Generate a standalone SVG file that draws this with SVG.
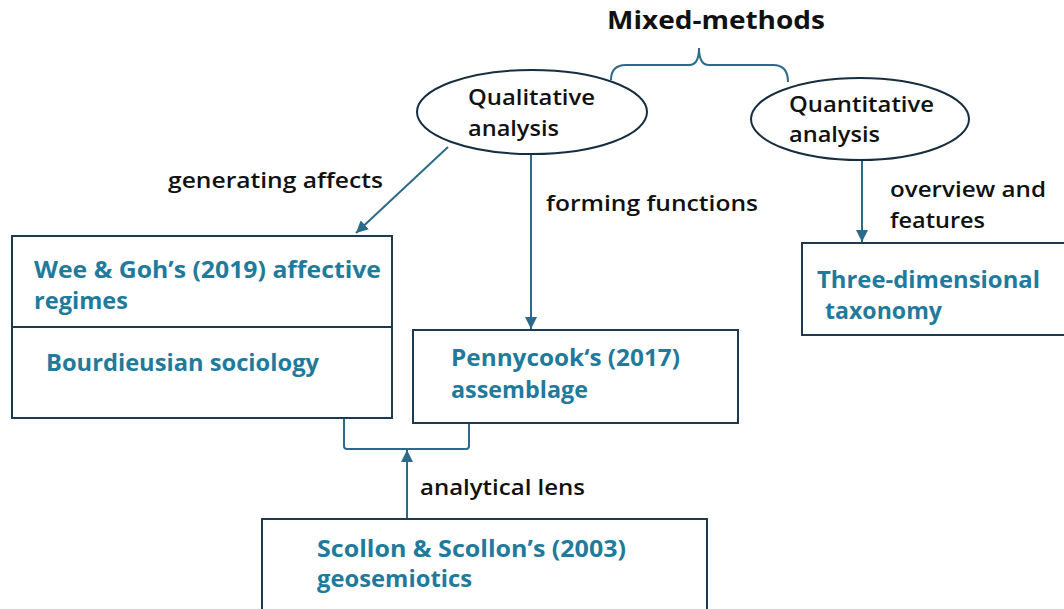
<svg xmlns="http://www.w3.org/2000/svg" width="1064" height="609" viewBox="0 0 1064 609">
<style>
.box{fill:#fff;stroke:#1d3b50;stroke-width:2}
.ell{fill:#fff;stroke:#172e40;stroke-width:2}
.con{fill:none;stroke:#2b6a88;stroke-width:2}
text{font-family:"Open Sans","Liberation Sans",sans-serif}
.lbl{font-weight:600;font-size:22px;fill:#111}
.ttl{font-weight:700;font-size:25px;fill:#111}
.blue{font-weight:700;font-size:23px;fill:#1f7a9c}
</style>
<defs>
<marker id="ah2" viewBox="0 0 10 10" refX="10" refY="5" markerWidth="12" markerHeight="12" orient="auto" markerUnits="userSpaceOnUse">
<path d="M0,0 L10,5 L0,10 z" fill="#2b6a88"/>
</marker>
</defs>
<text class="ttl" x="607" y="29" textLength="218" lengthAdjust="spacingAndGlyphs">Mixed-methods</text>
<g id="connectors">
<path class="con" d="M611,80 Q611,65 626,65 L689,65 Q699,65 699,48 Q699,65 709,65 L773,65 Q788,65 788,82"/>
<line class="con" x1="448" y1="147" x2="356" y2="233" marker-end="url(#ah2)"/>
<line class="con" x1="531" y1="155" x2="531" y2="329" marker-end="url(#ah2)"/>
<line class="con" x1="862" y1="160" x2="862" y2="242" marker-end="url(#ah2)"/>
<path class="con" d="M344,419 L344,446 Q344,449 347,449 L466,449 Q469,449 469,446 L469,424"/>
<line class="con" x1="407" y1="519" x2="407" y2="450" marker-end="url(#ah2)"/>
<text class="lbl" x="168" y="188" textLength="215" lengthAdjust="spacingAndGlyphs">generating affects</text>
<text class="lbl" x="546" y="211" textLength="212" lengthAdjust="spacingAndGlyphs">forming functions</text>
<text class="lbl" x="890" y="197" textLength="156" lengthAdjust="spacingAndGlyphs">overview and</text>
<text class="lbl" x="890" y="228" textLength="95" lengthAdjust="spacingAndGlyphs">features</text>
<text class="lbl" x="420" y="495" textLength="165" lengthAdjust="spacingAndGlyphs">analytical lens</text>
</g>
<g id="qualitative">
<ellipse class="ell" cx="532" cy="112" rx="115" ry="42"/>
<text class="lbl" x="468" y="105" textLength="127" lengthAdjust="spacingAndGlyphs">Qualitative</text>
<text class="lbl" x="468" y="136" textLength="91" lengthAdjust="spacingAndGlyphs">analysis</text>
</g>
<g id="quantitative">
<ellipse class="ell" cx="860" cy="119" rx="109" ry="41"/>
<text class="lbl" x="789" y="112" textLength="145" lengthAdjust="spacingAndGlyphs">Quantitative</text>
<text class="lbl" x="789" y="142" textLength="91" lengthAdjust="spacingAndGlyphs">analysis</text>
</g>
<g id="wee">
<rect class="box" x="12" y="236" width="380" height="182"/>
<line class="box" x1="12" y1="327" x2="392" y2="327"/>
<text class="blue" x="34" y="278" textLength="347" lengthAdjust="spacingAndGlyphs">Wee &amp; Goh’s (2019) affective</text>
<text class="blue" x="34" y="309" textLength="94" lengthAdjust="spacingAndGlyphs">regimes</text>
<text class="blue" x="46" y="371" textLength="273" lengthAdjust="spacingAndGlyphs">Bourdieusian sociology</text>
</g>
<g id="pennycook">
<rect class="box" x="413" y="330" width="325" height="93"/>
<text class="blue" x="451" y="366" textLength="229" lengthAdjust="spacingAndGlyphs">Pennycook‘s (2017)</text>
<text class="blue" x="451" y="398" textLength="137" lengthAdjust="spacingAndGlyphs">assemblage</text>
</g>
<g id="taxonomy">
<rect class="box" x="802" y="243" width="270" height="92"/>
<text class="blue" x="817" y="288" textLength="223" lengthAdjust="spacingAndGlyphs">Three-dimensional</text>
<text class="blue" x="825" y="319" textLength="117" lengthAdjust="spacingAndGlyphs">taxonomy</text>
</g>
<g id="scollon">
<rect class="box" x="262" y="519" width="445" height="100"/>
<text class="blue" x="317" y="557" textLength="309" lengthAdjust="spacingAndGlyphs">Scollon &amp; Scollon’s (2003)</text>
<text class="blue" x="317" y="587" textLength="155" lengthAdjust="spacingAndGlyphs">geosemiotics</text>
</g>
</svg>
